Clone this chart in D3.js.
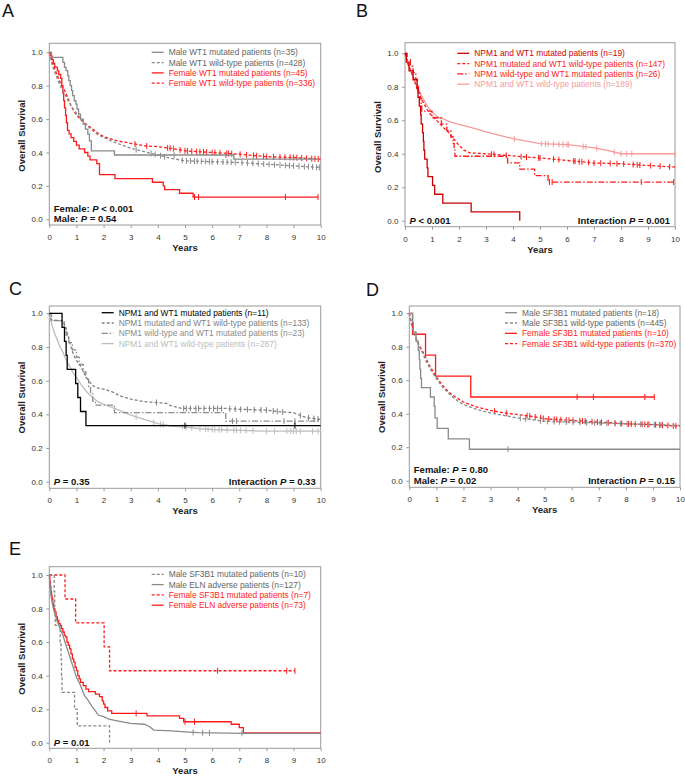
<!DOCTYPE html>
<html>
<head>
<meta charset="utf-8">
<title>Overall survival by WT1 / NPM1 / SF3B1</title>
<script src="https://cdnjs.cloudflare.com/ajax/libs/d3/7.8.5/d3.min.js"></script>
<style>
body { margin: 0; background: #fff; }
svg { display: block; font-family: "Liberation Sans", Arial, sans-serif; }
</style>
</head>
<body>
<script>
// ---- ticks
var yearTicks = [0, 1, 2, 3, 4, 5, 6, 7, 8, 9, 10];
var survTicks = [0, 0.2, 0.4, 0.6, 0.8, 1.0];

// ---- panel A : WT1 by sex  [years, survival]
var aMaleMut = [[0,1],[0.08,0.97],[0.5,0.94],[0.56,0.91],[0.62,0.89],[0.68,0.86],[0.72,0.83],[0.77,0.8],[0.82,0.77],[0.86,0.74],[0.92,0.71],[0.98,0.69],[1.02,0.66],[1.08,0.63],[1.15,0.6],[1.25,0.57],[1.33,0.54],[1.42,0.51],[1.48,0.47],[1.55,0.41],[2.4,0.385],[6.8,0.36],[9.9,0.36]];
var aMaleMutCens = [4.6, 6.5];
var aMaleWt = [[0,1],[0.05,0.96],[0.1,0.93],[0.2,0.88],[0.3,0.84],[0.4,0.8],[0.5,0.77],[0.6,0.74],[0.7,0.71],[0.8,0.68],[0.9,0.655],[1.0,0.635],[1.2,0.595],[1.4,0.56],[1.6,0.53],[1.8,0.505],[2.0,0.49],[2.5,0.455],[3.0,0.425],[3.5,0.405],[4.0,0.385],[4.5,0.365],[5.0,0.35],[6.0,0.345],[7.0,0.34],[8.0,0.33],[9.0,0.32],[10,0.31]];
var aMaleWtCens = [3.2,3.75,3.9,4.1,4.25,4.9,5.05,5.2,5.35,5.45,5.6,5.75,5.9,6.0,6.2,6.4,6.55,6.7,6.85,7.1,7.3,7.5,7.7,7.9,8.1,8.3,8.5,8.7,8.85,9.0,9.2,9.4,9.55,9.7,9.85,9.95];
var aFemMut = [[0,1],[0.05,0.978],[0.1,0.956],[0.15,0.933],[0.2,0.911],[0.3,0.889],[0.35,0.867],[0.42,0.844],[0.46,0.8],[0.5,0.756],[0.53,0.711],[0.56,0.667],[0.6,0.622],[0.63,0.578],[0.67,0.533],[0.73,0.511],[0.8,0.489],[0.9,0.467],[1.0,0.444],[1.1,0.422],[1.3,0.4],[1.42,0.378],[1.5,0.356],[1.75,0.333],[1.85,0.267],[2.42,0.244],[3.8,0.222],[4.2,0.2],[4.25,0.178],[4.8,0.156],[5.3,0.133],[9.9,0.133]];
var aFemMutCens = [5.35, 5.5, 8.7, 9.9];
var aFemWt = [[0,1],[0.05,0.97],[0.1,0.94],[0.2,0.9],[0.3,0.86],[0.4,0.82],[0.5,0.79],[0.6,0.76],[0.7,0.72],[0.8,0.68],[0.9,0.65],[1.0,0.625],[1.2,0.59],[1.4,0.565],[1.6,0.54],[1.8,0.515],[2.0,0.495],[2.5,0.47],[3.0,0.455],[3.5,0.44],[4.0,0.435],[4.5,0.425],[5.0,0.41],[6.0,0.4],[7.0,0.39],[8.0,0.375],[9.0,0.37],[10,0.36]];
var aFemWtCens = [3.16,3.59,4.36,4.45,4.57,4.82,5.0,5.09,5.25,5.43,5.55,5.68,5.8,6.0,6.1,6.29,6.54,6.6,6.72,7.03,7.27,7.52,7.64,7.89,8.01,8.26,8.5,8.68,8.87,8.99,9.12,9.3,9.48,9.67,9.79,9.91];
var aLabels = ["Male WT1 mutated patients (n=35)", "Male WT1 wild-type patients (n=428)", "Female WT1 mutated patients (n=45)", "Female WT1 wild-type patients (n=336)"];

// ---- panel B : NPM1 x WT1, female
var bBothMut = [[0,1],[0.05,0.947],[0.15,0.895],[0.3,0.842],[0.45,0.789],[0.48,0.737],[0.53,0.684],[0.58,0.632],[0.6,0.579],[0.65,0.526],[0.68,0.474],[0.7,0.421],[0.73,0.368],[0.82,0.316],[0.85,0.263],[1.02,0.211],[1.1,0.158],[1.4,0.105],[2.45,0.053],[4.25,0]];
var bNpmMut = [[0,1],[0.05,0.97],[0.1,0.94],[0.2,0.9],[0.3,0.86],[0.4,0.81],[0.5,0.77],[0.6,0.73],[0.7,0.7],[0.8,0.67],[0.9,0.645],[1.0,0.625],[1.2,0.595],[1.4,0.56],[1.6,0.53],[1.8,0.49],[2.0,0.45],[2.2,0.42],[2.4,0.405],[3.0,0.4],[3.8,0.39],[4.5,0.38],[5.0,0.375],[6.0,0.36],[7.0,0.345],[8.0,0.34],[9.0,0.33],[10,0.32]];
var bNpmMutCens = [3.2,3.3,3.75,4.3,4.5,4.95,5.0,5.5,5.7,6.25,6.3,6.45,6.55,6.8,7.0,7.25,7.6,7.85,8.1,8.45,8.6,8.7,9.1,9.45,9.8];
var bWt1Mut = [[0,1],[0.08,0.962],[0.2,0.923],[0.3,0.885],[0.4,0.846],[0.45,0.808],[0.5,0.769],[0.55,0.731],[0.6,0.692],[0.62,0.654],[1.0,0.615],[1.35,0.577],[1.55,0.538],[1.7,0.5],[1.78,0.462],[1.82,0.423],[1.85,0.385],[3.8,0.346],[4.25,0.308],[4.8,0.269],[5.3,0.231],[10,0.231]];
var bWt1MutCens = [5.35, 5.45, 8.75, 9.95];
var bBothWt = [[0,1],[0.05,0.97],[0.1,0.94],[0.2,0.9],[0.3,0.86],[0.4,0.82],[0.5,0.78],[0.6,0.75],[0.7,0.72],[0.8,0.69],[0.9,0.67],[1.0,0.65],[1.2,0.62],[1.4,0.61],[1.6,0.595],[1.8,0.585],[2.0,0.575],[2.5,0.555],[3.0,0.53],[3.5,0.51],[4.0,0.49],[4.5,0.475],[5.0,0.46],[6.0,0.455],[6.5,0.445],[7.0,0.435],[7.5,0.42],[8.0,0.4],[10,0.4]];
var bBothWtCens = [4.05,5.05,5.2,5.3,5.5,5.7,5.85,6.0,6.05,6.6,6.7,7.1,7.75,8.0,8.2,8.4,10];
var bLabels = ["NPM1 and WT1 mutated patients (n=19)", "NPM1 mutated and WT1 wild-type patients (n=147)", "NPM1 wild-type and WT1 mutated patients (n=26)", "NPM1 and WT1 wild-type patients (n=189)"];

// ---- panel C : NPM1 x WT1, male
var cBothMut = [[0,1],[0.47,0.917],[0.56,0.833],[0.62,0.75],[0.66,0.667],[0.97,0.583],[1.05,0.5],[1.15,0.417],[1.35,0.333],[10,0.333]];
var cBothMutCens = [5.0, 9.05];
var cNpmMut = [[0,1],[0.05,0.97],[0.1,0.96],[0.5,0.955],[0.6,0.92],[0.7,0.86],[0.8,0.8],[0.9,0.75],[1.0,0.72],[1.1,0.7],[1.2,0.67],[1.3,0.64],[1.4,0.61],[1.5,0.59],[1.6,0.57],[1.8,0.555],[2.0,0.55],[2.3,0.535],[2.6,0.51],[3.0,0.49],[3.5,0.475],[4.0,0.47],[4.3,0.465],[4.5,0.45],[4.9,0.435],[6.5,0.435],[7.0,0.43],[8.0,0.425],[8.5,0.415],[9.0,0.41],[9.3,0.39],[9.5,0.38],[10,0.37]];
var cNpmMutCens = [3.95,4.95,5.05,5.2,5.4,5.5,5.7,5.9,6.05,6.2,6.35,6.65,6.85,7.05,7.3,7.55,7.8,8.0,8.25,8.4,8.6,9.25,9.55,9.75,9.9];
var cWt1Mut = [[0,1],[0.08,0.957],[0.55,0.913],[0.62,0.87],[0.72,0.826],[0.85,0.783],[1.0,0.739],[1.1,0.696],[1.25,0.652],[1.35,0.609],[1.45,0.565],[1.52,0.522],[1.6,0.478],[1.7,0.455],[2.4,0.41],[6.5,0.36],[10,0.36]];
var cWt1MutCens = [6.75, 6.9, 8.65, 9.05];
var cBothWt = [[0,1],[0.05,0.96],[0.1,0.93],[0.2,0.88],[0.3,0.84],[0.4,0.8],[0.5,0.77],[0.6,0.73],[0.7,0.7],[0.8,0.67],[0.9,0.64],[1.0,0.62],[1.2,0.57],[1.4,0.53],[1.6,0.5],[1.8,0.475],[2.0,0.46],[2.5,0.43],[3.0,0.395],[3.5,0.37],[4.0,0.345],[4.5,0.33],[5.0,0.325],[5.5,0.315],[6.0,0.31],[7.0,0.305],[8.0,0.3],[10,0.3]];
var cBothWtCens = [3.2,3.85,4.1,4.2,4.9,5.05,5.25,5.55,5.75,5.85,6.0,6.1,6.25,6.35,6.55,6.8,6.9,7.05,7.25,7.5,8.0,8.3,8.75,8.9,9.0,9.1,9.25,9.7,9.9];
var cLabels = ["NPM1 and WT1 mutated patients (n=11)", "NPM1 mutated and WT1 wild-type patients (n=133)", "NPM1 wild-type and WT1 mutated patients (n=23)", "NPM1 and WT1 wild-type patients (n=287)"];

// ---- panel D : SF3B1 by sex
var dMaleMut = [[0,1],[0.12,0.944],[0.15,0.889],[0.25,0.833],[0.33,0.778],[0.37,0.722],[0.39,0.667],[0.42,0.611],[0.45,0.556],[0.78,0.5],[0.92,0.444],[0.95,0.375],[1.03,0.313],[1.44,0.25],[2.22,0.188],[10,0.188]];
var dMaleMutCens = [3.65];
var dMaleWt = [[0,1],[0.05,0.96],[0.1,0.92],[0.2,0.87],[0.3,0.83],[0.4,0.79],[0.5,0.76],[0.6,0.72],[0.7,0.69],[0.8,0.66],[0.9,0.635],[1.0,0.61],[1.2,0.565],[1.4,0.53],[1.6,0.5],[1.8,0.475],[2.0,0.455],[2.5,0.425],[3.0,0.405],[3.5,0.39],[4.0,0.375],[4.5,0.365],[5.0,0.355],[6.0,0.35],[7.0,0.345],[8.0,0.34],[9.0,0.335],[10,0.33]];
var dMaleWtCens = [4.1,4.3,4.85,5.1,5.35,5.55,5.8,6.05,6.3,6.55,6.85,7.05,7.3,7.6,7.8,8.05,8.35,8.55,8.8,9.05,9.3];
var dFemMut = [[0,1],[0.12,0.875],[0.6,0.75],[0.97,0.625],[2.27,0.5],[9.05,0.5]];
var dFemMutCens = [6.2, 6.8, 8.7, 9.05];
var dFemWt = [[0,1],[0.05,0.96],[0.1,0.92],[0.2,0.87],[0.3,0.83],[0.4,0.8],[0.5,0.77],[0.6,0.74],[0.7,0.7],[0.8,0.675],[0.9,0.645],[1.0,0.62],[1.2,0.575],[1.4,0.54],[1.6,0.51],[1.8,0.49],[2.0,0.47],[2.5,0.44],[3.0,0.42],[3.5,0.405],[4.0,0.395],[4.5,0.385],[5.0,0.37],[6.0,0.36],[7.0,0.35],[8.0,0.34],[9.0,0.335],[10,0.325]];
var dFemWtCens = [3.15,3.6,4.35,4.45,4.65,4.85,4.95,5.15,5.35,5.45,5.6,5.8,5.9,6.05,6.3,6.4,6.5,6.75,6.95,7.1,7.35,7.6,7.85,8.1,8.2,8.35,8.6,8.7,8.85,9.1,9.25,9.35,9.55,9.75,9.85];
var dLabels = ["Male SF3B1 mutated patients (n=18)", "Male SF3B1 wild-type patients (n=445)", "Female SF3B1 mutated patients (n=10)", "Female SF3B1 wild-type patients (n=370)"];

// ---- panel E : SF3B1 vs ELN adverse by sex
var eMaleSf = [[0,1],[0.18,0.9],[0.2,0.8],[0.22,0.7],[0.4,0.6],[0.43,0.5],[0.45,0.4],[0.47,0.3],[0.93,0.2],[1.03,0.1],[2.22,0]];
var eMaleEln = [[0,1],[0.03,0.93],[0.06,0.88],[0.1,0.84],[0.15,0.8],[0.2,0.77],[0.3,0.72],[0.4,0.68],[0.5,0.64],[0.6,0.59],[0.7,0.54],[0.8,0.49],[0.9,0.44],[1.0,0.39],[1.1,0.36],[1.2,0.32],[1.3,0.28],[1.4,0.26],[1.5,0.235],[1.6,0.21],[1.7,0.19],[1.8,0.165],[2.0,0.155],[2.2,0.14],[2.5,0.13],[3.0,0.115],[3.5,0.11],[3.7,0.095],[3.85,0.075],[4.5,0.07],[5.0,0.065],[5.5,0.06],[7.1,0.056],[10,0.056]];
var eMaleElnCens = [5.3, 5.65, 5.9, 7.1];
var eFemSf = [[0,1],[0.58,0.857],[0.97,0.714],[2.02,0.571],[2.22,0.429],[9.05,0.429]];
var eFemSfCens = [6.2, 8.75, 9.05];
var eFemEln = [[0,1],[0.02,0.96],[0.04,0.93],[0.06,0.9],[0.08,0.88],[0.1,0.86],[0.13,0.83],[0.16,0.8],[0.2,0.78],[0.25,0.75],[0.3,0.73],[0.35,0.71],[0.4,0.7],[0.45,0.68],[0.5,0.66],[0.55,0.64],[0.6,0.63],[0.65,0.6],[0.7,0.58],[0.75,0.56],[0.8,0.53],[0.85,0.5],[0.9,0.48],[0.95,0.45],[1.0,0.43],[1.05,0.4],[1.1,0.38],[1.15,0.36],[1.25,0.34],[1.35,0.32],[1.45,0.305],[1.7,0.29],[1.85,0.275],[1.95,0.25],[2.0,0.23],[2.05,0.21],[2.15,0.19],[2.3,0.175],[3.6,0.16],[4.8,0.145],[4.95,0.125],[6.7,0.11],[7.0,0.09],[7.15,0.058],[10,0.058]];
var eFemElnCens = [3.2, 5.0, 5.35];
var eLabels = ["Male SF3B1 mutated patients (n=10)", "Male ELN adverse patients (n=127)", "Female SF3B1 mutated patients (n=7)", "Female ELN adverse patients (n=73)"];

//--------------------------------
var RED = "#ff1a1a", GRAY = "#8a8a8a", DASH = "3,2", DOTDASH = "6,2,1.5,2";

var svg = d3.select("body").append("svg").attr("width", 685).attr("height", 779);

function survAt(pts, t, step) {
    var v = pts[0][1];
    for (var i = 0; i < pts.length; i++) {
        if (pts[i][0] <= t) { v = pts[i][1]; continue; }
        if (!step && i > 0) {
            var p = pts[i - 1], q = pts[i];
            v = p[1] + (q[1] - p[1]) * (t - p[0]) / (q[0] - p[0]);
        }
        break;
    }
    return v;
}

function richText(sel, parts) {
    // parts: [plain, italic, plain, ...]
    parts.forEach(function(s, i) {
        sel.append("tspan").attr("font-style", i % 2 ? "italic" : "normal").text(s);
    });
}

function drawPanel(p) {
    var x = d3.scaleLinear().domain([0, 10]).range([p.left, p.right]);
    var y = d3.scaleLinear().domain([0, 1]).range([p.y0, p.y1]);
    var g = svg.append("g");

    g.append("text").attr("x", p.lx).attr("y", p.ly).attr("font-size", 18).attr("fill", "#111").text(p.letter);

    g.append("rect").attr("x", p.left).attr("y", p.top)
        .attr("width", p.right - p.left).attr("height", p.bottom - p.top)
        .attr("fill", "none").attr("stroke", "#9a9a9a").attr("stroke-width", 1);

    var xa = g.append("g").attr("transform", "translate(0," + p.bottom + ")")
        .call(d3.axisBottom(x).tickValues(yearTicks).tickSize(3).tickFormat(d3.format("d")));
    xa.selectAll("text").attr("y", 15).attr("dy", null);
    var ya = g.append("g").attr("transform", "translate(" + p.left + ",0)")
        .call(d3.axisLeft(y).tickValues(survTicks).tickSize(3).tickPadding(3.6).tickFormat(d3.format(".1f")));
    [xa, ya].forEach(function(a) {
        a.select(".domain").remove();
        a.selectAll("line").attr("stroke", "#9a9a9a");
        a.selectAll("text").attr("fill", "#333").attr("font-size", 8).attr("font-family", null);
    });

    g.append("text").attr("transform", "translate(" + (p.left - 24) + "," + ((p.y0 + p.y1) / 2) + ") rotate(-90)")
        .attr("text-anchor", "middle").attr("font-weight", "bold").attr("font-size", 9.5).attr("fill", "#222")
        .text("Overall Survival");
    g.append("text").attr("x", (p.left + p.right) / 2).attr("y", p.bottom + 26)
        .attr("text-anchor", "middle").attr("font-weight", "bold").attr("font-size", 9.5).attr("fill", "#222")
        .text("Years");

    // curves, drawn in reverse so the first series is on top
    p.series.slice().reverse().forEach(function(s) {
        var line = d3.line().x(function(d) { return x(d[0]); }).y(function(d) { return y(d[1]); })
            .curve(s.step ? d3.curveStepAfter : d3.curveLinear);
        g.append("path").datum(s.data).attr("d", line).attr("fill", "none")
            .attr("stroke", s.color).attr("stroke-width", 1.3).attr("stroke-dasharray", s.dash || null);
        g.selectAll(null).data(s.cens || []).enter().append("line")
            .attr("x1", function(t) { return x(t); }).attr("x2", function(t) { return x(t); })
            .attr("y1", function(t) { return y(survAt(s.data, t, s.step)) - 3; })
            .attr("y2", function(t) { return y(survAt(s.data, t, s.step)) + 3; })
            .attr("stroke", s.color).attr("stroke-width", 1);
    });

    // legend
    p.series.forEach(function(s, i) {
        var ly = p.top + p.legTop + i * 10.3;
        g.append("line").attr("x1", p.left + p.legX).attr("x2", p.left + p.legX + 12)
            .attr("y1", ly).attr("y2", ly).attr("stroke", s.color).attr("stroke-width", 1.3)
            .attr("stroke-dasharray", s.dash || null);
        g.append("text").attr("x", p.left + p.legX + 17).attr("y", ly).attr("dy", "0.35em")
            .attr("font-size", 8.4).attr("fill", s.textColor || s.color).text(s.label);
    });

    // p-values
    p.leftNotes.forEach(function(parts, i, arr) {
        var t = g.append("text").attr("x", p.left + 4.5).attr("y", p.y0 + 3 - (arr.length - 1 - i) * 10.8)
            .attr("font-weight", "bold").attr("font-size", 9.5).attr("fill", "#111");
        richText(t, parts);
    });
    if (p.rightNote) {
        var t = g.append("text").attr("x", p.right - 5).attr("y", p.y0 + 3).attr("text-anchor", "end")
            .attr("font-weight", "bold").attr("font-size", 9.5).attr("fill", "#111");
        richText(t, p.rightNote);
    }
}

var panels = [
    { letter: "A", lx: 2, ly: 16.5, left: 49.3, right: 320.7, top: 43.3, bottom: 225, y1: 52.3, y0: 219.3, legX: 102.4, legTop: 9,
      leftNotes: [["Female: ", "P", " < 0.001"], ["Male: ", "P", " = 0.54"]],
      series: [
        { data: aMaleMut, cens: aMaleMutCens, step: true, color: GRAY, textColor: "#666", label: aLabels[0] },
        { data: aMaleWt, cens: aMaleWtCens, color: GRAY, dash: DASH, textColor: "#666", label: aLabels[1] },
        { data: aFemMut, cens: aFemMutCens, step: true, color: RED, label: aLabels[2] },
        { data: aFemWt, cens: aFemWtCens, color: RED, dash: DASH, label: aLabels[3] }
      ] },
    { letter: "B", lx: 356, ly: 16.5, left: 405, right: 675, top: 42.7, bottom: 226.7, y1: 53.3, y0: 220.7, legX: 52.3, legTop: 10.6,
      leftNotes: [["", "P", " < 0.001"]], rightNote: ["Interaction ", "P", " = 0.001"],
      series: [
        { data: bBothMut, step: true, color: "#cc0000", label: bLabels[0] },
        { data: bNpmMut, cens: bNpmMutCens, color: RED, dash: DASH, label: bLabels[1] },
        { data: bWt1Mut, cens: bWt1MutCens, step: true, color: RED, dash: DOTDASH, label: bLabels[2] },
        { data: bBothWt, cens: bBothWtCens, color: "#f59b9b", label: bLabels[3] }
      ] },
    { letter: "C", lx: 9, ly: 295, left: 49.3, right: 320.7, top: 306, bottom: 488.3, y1: 313.3, y0: 481.7, legX: 52.4, legTop: 6.7,
      leftNotes: [["", "P", " = 0.35"]], rightNote: ["Interaction ", "P", " = 0.33"],
      series: [
        { data: cBothMut, cens: cBothMutCens, step: true, color: "#000", label: cLabels[0] },
        { data: cNpmMut, cens: cNpmMutCens, color: "#808080", dash: DASH, label: cLabels[1] },
        { data: cWt1Mut, cens: cWt1MutCens, step: true, color: "#8c8c8c", dash: DOTDASH, label: cLabels[2] },
        { data: cBothWt, cens: cBothWtCens, color: "#bdbdbd", label: cLabels[3] }
      ] },
    { letter: "D", lx: 366, ly: 296, left: 409.3, right: 680, top: 306, bottom: 487.3, y1: 313.3, y0: 480.7, legX: 95.7, legTop: 6.7,
      leftNotes: [["Female: ", "P", " = 0.80"], ["Male: ", "P", " = 0.02"]], rightNote: ["Interaction ", "P", " = 0.15"],
      series: [
        { data: dMaleMut, cens: dMaleMutCens, step: true, color: GRAY, textColor: "#666", label: dLabels[0] },
        { data: dMaleWt, cens: dMaleWtCens, color: GRAY, dash: DASH, textColor: "#666", label: dLabels[1] },
        { data: dFemMut, cens: dFemMutCens, step: true, color: RED, label: dLabels[2] },
        { data: dFemWt, cens: dFemWtCens, color: RED, dash: DASH, label: dLabels[3] }
      ] },
    { letter: "E", lx: 9, ly: 555, left: 49.3, right: 320.7, top: 566.7, bottom: 748.3, y1: 575, y0: 742.7, legX: 102.4, legTop: 7.6,
      leftNotes: [["", "P", " = 0.01"]],
      series: [
        { data: eMaleSf, step: true, color: GRAY, dash: DASH, textColor: "#666", label: eLabels[0] },
        { data: eMaleEln, cens: eMaleElnCens, color: GRAY, textColor: "#666", label: eLabels[1] },
        { data: eFemSf, cens: eFemSfCens, step: true, color: RED, dash: DASH, label: eLabels[2] },
        { data: eFemEln, cens: eFemElnCens, step: true, color: RED, label: eLabels[3] }
      ] }
];

panels.forEach(drawPanel);
</script>
</body>
</html>
